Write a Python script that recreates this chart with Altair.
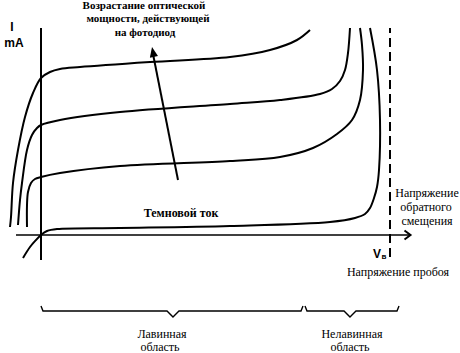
import altair as alt
import pandas as pd

# Diagram units: V = reverse bias (horizontal axis), I = current (mA); origin at axes crossing
dark_v = [-18, -11, -5, 0, 6, 16, 79, 189, 289, 314, 324, 329, 333, 336, 338, 339, 336, 329]
dark_i = [-23, -12, -5, 0, 4, 6, 7, 9, 13, 17, 21, 27, 37, 48, 65, 115, 165, 207]
p1_v = [-14, -14, -13, -10, -6, 0, 19, 79, 189, 239, 272, 296, 311, 319, 322, 321, 319]
p1_i = [8, 30, 43, 52, 56, 58, 62, 69, 74, 78, 87, 101, 115, 135, 165, 190, 207]
p2_v = [-23, -21, -19, -14, -9, -4, 0, 19, 79, 189, 239, 279, 291, 299, 304, 307, 309]
p2_i = [10, 35, 52, 85, 100, 107, 110, 115, 123, 131, 135, 141, 146, 154, 165, 182, 207]
p3_v = [-31, -30, -28, -23, -16, -8, 0, 9, 19, 39, 109, 189, 229, 256, 269]
p3_i = [8, 18, 52, 85, 118, 142, 157, 163, 166, 168, 173, 178, 185, 195, 205]

axis_v_range = [-25, 207]      # vertical axis extent (I)
axis_h_range = [-25, 368]      # horizontal axis extent (V)
breakdown_v = 349
breakdown_range = [-22, 207]

arrow_v = [137, 112]
arrow_i = [55, 181]
arrow_tip = (111, 188)

brace_start = [0, 264]
brace_end = [262, 358]
brace_tip = [132, 309]
brace_level = -76

title_lines = ["Возрастание оптической", "мощности, действующей", "на фотодиод"]
title_v = [103, 107, 104]
title_i = [229, 216, 202]

unit_text = ["I", "mA"]
unit_v = [-29, -27]
unit_i = [208, 192]

bias_lines = ["Напряжение", "обратного", "смещения"]
bias_v = [386, 385, 386]
bias_i = [42, 28, 14]

region_text = ["Лавинная", "область", "Нелавинная", "область"]
region_v = [121, 119, 311, 309]
region_i = [-99, -112, -99, -112]

X = alt.Scale(domain=[-41, 419], nice=False, zero=False)
Y = alt.Scale(domain=[-118, 235], nice=False, zero=False)


def enc(ch, **extra):
    return ch.encode(x=alt.X("V:Q", scale=X, axis=None),
                     y=alt.Y("I:Q", scale=Y, axis=None), **extra)


def curve(vs, is_, width=2.0, interp="catmull-rom"):
    df = pd.DataFrame({"V": vs, "I": is_, "k": list(range(len(vs)))})
    return enc(alt.Chart(df).mark_line(color="black", strokeWidth=width,
                                       interpolate=interp),
               order="k:Q")


layers = []
for vs, is_ in [(dark_v, dark_i), (p1_v, p1_i), (p2_v, p2_i), (p3_v, p3_i)]:
    layers.append(curve(vs, is_, 2.0))

# axes
vax = pd.DataFrame({"V": [0], "I": [axis_v_range[0]], "I2": [axis_v_range[1]]})
layers.append(alt.Chart(vax).mark_rule(color="black", strokeWidth=2).encode(
    x=alt.X("V:Q", scale=X, axis=None), y=alt.Y("I:Q", scale=Y, axis=None), y2="I2:Q"))
hax = pd.DataFrame({"V": [axis_h_range[0]], "V2": [axis_h_range[1]], "I": [0]})
layers.append(alt.Chart(hax).mark_rule(color="black", strokeWidth=1.5).encode(
    x=alt.X("V:Q", scale=X, axis=None), x2="V2:Q", y=alt.Y("I:Q", scale=Y, axis=None)))
chev = pd.DataFrame({"V": [axis_h_range[1]], "I": [0]})
layers.append(enc(alt.Chart(chev).mark_point(
    shape="M-0.9,-0.9 L0.3,0 L-0.9,0.9", filled=False, stroke="black",
    strokeWidth=2, size=100, opacity=1)))

# breakdown dashed line
bd = pd.DataFrame({"V": [breakdown_v], "I": [breakdown_range[0]], "I2": [breakdown_range[1]]})
layers.append(alt.Chart(bd).mark_rule(color="black", strokeWidth=2, strokeDash=[9, 5]).encode(
    x=alt.X("V:Q", scale=X, axis=None), y=alt.Y("I:Q", scale=Y, axis=None), y2="I2:Q"))

# arrow
layers.append(curve(arrow_v, arrow_i, 2.0, "linear"))
tip = pd.DataFrame({"V": [arrow_tip[0]], "I": [arrow_tip[1]]})
layers.append(enc(alt.Chart(tip).mark_point(
    shape="M0,0 L0.35,0.85 L-0.35,0.85 Z", filled=True, color="black",
    size=560, angle=349, opacity=1, strokeWidth=0)))

# braces
for s, e, t in zip(brace_start, brace_end, brace_tip):
    bv = [s, s + 2, t - 6, t, t + 6, e - 2, e]
    bi = [brace_level + 5, brace_level, brace_level, brace_level - 6,
          brace_level, brace_level, brace_level + 5]
    layers.append(curve(bv, bi, 1.4, "linear"))

SERIF = "Liberation Serif"


def texts(t, vs, is_, **kw):
    df = pd.DataFrame({"V": vs, "I": is_, "t": t})
    base = dict(color="black", align="center", baseline="middle")
    base.update(kw)
    return enc(alt.Chart(df).mark_text(**base), text="t:N")


layers.append(texts(title_lines, title_v, title_i, font=SERIF, fontSize=11, fontWeight="bold"))
layers.append(texts(unit_text, unit_v, unit_i, font="Liberation Sans", fontSize=12, fontWeight="bold"))
layers.append(texts(["Темновой ток"], [140], [22], font=SERIF, fontSize=12, fontWeight="bold"))
layers.append(texts(bias_lines, bias_v, bias_i, font=SERIF, fontSize=12))
layers.append(texts(["Напряжение пробоя"], [357], [-37], font=SERIF, fontSize=12))
layers.append(texts(region_text, region_v, region_i, font=SERIF, fontSize=12))
layers.append(texts(["V"], [336], [-19], font="Liberation Sans", fontSize=12, fontWeight="bold"))
layers.append(texts(["в"], [343], [-22], font="Liberation Sans", fontSize=8, fontWeight="bold"))

chart = alt.layer(*layers).properties(
    width=460, height=353, padding=0, autosize=alt.AutoSizeParams(type="none"),
    background="white",
).configure_view(stroke=None)

chart.save("out.html", embed_options={"renderer": "svg", "actions": False})
